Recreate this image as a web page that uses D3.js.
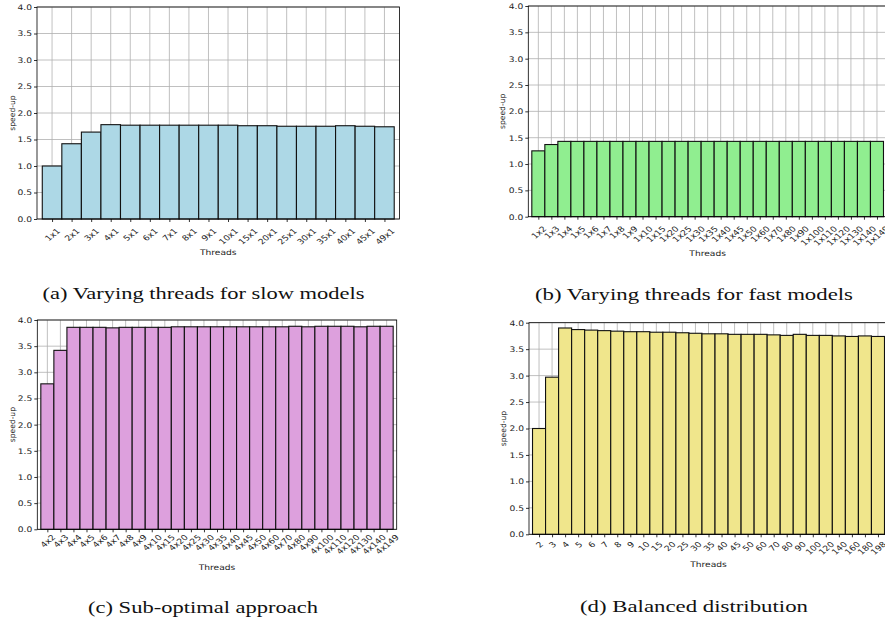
<!DOCTYPE html>
<html>
<head>
<meta charset="utf-8">
<script src="https://cdn.jsdelivr.net/npm/d3@7"></script>
<style>
  html, body { margin: 0; padding: 0; background: #fff; }
  svg { display: block; }
  .tick text { font-family: "DejaVu Sans", sans-serif; }
</style>
</head>
<body>
<svg id="chart" width="885" height="623"></svg>
<script>
// ---------- data ----------
const slowLabels = ["1x1","2x1","3x1","4x1","5x1","6x1","7x1","8x1","9x1","10x1","15x1","20x1","25x1","30x1","35x1","40x1","45x1","49x1"];
const slowValues = [1.00,1.42,1.64,1.78,1.77,1.77,1.77,1.77,1.77,1.77,1.76,1.76,1.75,1.75,1.75,1.76,1.75,1.74];

const fastLabels = ["1x2","1x3","1x4","1x5","1x6","1x7","1x8","1x9","1x10","1x15","1x20","1x25","1x30","1x35","1x40","1x45","1x50","1x60","1x70","1x80","1x90","1x100","1x110","1x120","1x130","1x140","1x149"];
const fastValues = [1.25,1.37,1.43,1.43,1.43,1.43,1.43,1.43,1.43,1.43,1.43,1.43,1.43,1.43,1.43,1.43,1.43,1.43,1.43,1.43,1.43,1.43,1.43,1.43,1.43,1.43,1.43];

const subLabels = ["4x2","4x3","4x4","4x5","4x6","4x7","4x8","4x9","4x10","4x15","4x20","4x25","4x30","4x35","4x40","4x45","4x50","4x60","4x70","4x80","4x90","4x100","4x110","4x120","4x130","4x140","4x149"];
const subValues = [2.78,3.42,3.86,3.86,3.86,3.85,3.86,3.86,3.86,3.86,3.87,3.87,3.87,3.87,3.87,3.87,3.87,3.87,3.87,3.88,3.87,3.88,3.88,3.88,3.87,3.88,3.88];

const balLabels = ["2","3","4","5","6","7","8","9","10","15","20","25","30","35","40","45","50","60","70","80","90","100","120","140","160","180","198"];
const balValues = [2.00,2.97,3.90,3.87,3.86,3.85,3.84,3.83,3.83,3.82,3.82,3.81,3.80,3.79,3.79,3.78,3.78,3.78,3.77,3.76,3.78,3.76,3.76,3.75,3.74,3.75,3.74];

const yTicks = [0,0.5,1.0,1.5,2.0,2.5,3.0,3.5,4.0];
const xTitle = "Threads";
const yTitle = "speed-up";

const captions = [
  "(a) Varying threads for slow models",
  "(b) Varying threads for fast models",
  "(c) Sub-optimal approach",
  "(d) Balanced distribution"
];

// ---------- layout ----------
const SX = 1.2; // horizontal stretch of the reference figure text
const FS = 7.6;
const panels = [
  {labels: slowLabels, values: slowValues, color: "#add8e6", left: 37, right: 399.5, top: 7, bottom: 219, ylab: 12, xt: 255, lo: 8, cap: [203.5, 298.5, 322]},
  {labels: fastLabels, values: fastValues, color: "#90ee90", left: 528.3, right: 887, top: 6, bottom: 216.7, ylab: 502, xt: 256, lo: 8, cap: [694, 299.5, 318]},
  {labels: subLabels, values: subValues, color: "#dda0dd", left: 37.3, right: 396.7, top: 320, bottom: 529.3, ylab: 12, xt: 569.5, lo: 4, cap: [203, 613, 230]},
  {labels: balLabels, values: balValues, color: "#f0e68c", left: 529, right: 888, top: 322.7, bottom: 534.3, ylab: 503, xt: 567, lo: 6, cap: [694, 611.5, 228]}
];

const svg = d3.select("#chart");

function stretch(sel, f) {
  sel.each(function() {
    const L = this.getComputedTextLength();
    d3.select(this).attr("textLength", L * f).attr("lengthAdjust", "spacingAndGlyphs");
  });
}

panels.forEach((p, k) => {
  const n = p.labels.length;
  const x = d3.scaleLinear().domain([-0.77, n - 1 + 0.77]).range([p.left, p.right]);
  const y = d3.scaleLinear().domain([0, 4]).range([p.bottom, p.top]);
  const g = svg.append("g");
  const w = p.right - p.left, h = p.bottom - p.top;

  // grid
  g.append("g").selectAll("line").data(yTicks).join("line")
    .attr("x1", p.left).attr("x2", p.right)
    .attr("y1", d => y(d)).attr("y2", d => y(d))
    .attr("stroke", "#b0b0b0").attr("stroke-width", 0.8);
  g.append("g").selectAll("line").data(d3.range(n)).join("line")
    .attr("x1", d => x(d)).attr("x2", d => x(d))
    .attr("y1", p.top).attr("y2", p.bottom)
    .attr("stroke", "#b0b0b0").attr("stroke-width", 0.8);

  // bars
  g.append("g").selectAll("rect").data(p.values).join("rect")
    .attr("x", (d, i) => x(i - 0.5))
    .attr("width", x(1) - x(0))
    .attr("y", d => y(d))
    .attr("height", d => y(0) - y(d))
    .attr("fill", p.color)
    .attr("stroke", "#111")
    .attr("stroke-width", 1.1);

  // spines
  g.append("rect").attr("x", p.left).attr("y", p.top).attr("width", w).attr("height", h)
    .attr("fill", "none").attr("stroke", "#000").attr("stroke-width", 0.8);

  // y axis
  const ya = d3.axisLeft(y).tickValues(yTicks).tickFormat(d3.format(".1f")).tickSize(3).tickPadding(2);
  const yg = g.append("g").attr("transform", `translate(${p.left},0)`).call(ya);
  yg.select(".domain").remove();
  yg.selectAll("text").attr("font-size", FS).attr("fill", "#222");
  stretch(yg.selectAll("text"), SX);
  yg.selectAll("line").attr("stroke", "#000").attr("stroke-width", 0.8);

  // x axis
  const xa = d3.axisBottom(x).tickValues(d3.range(n)).tickFormat(i => p.labels[i]).tickSize(3).tickPadding(0);
  const xg = g.append("g").attr("transform", `translate(0,${p.bottom})`).call(xa);
  xg.select(".domain").remove();
  xg.selectAll("line").attr("stroke", "#000").attr("stroke-width", 0.8);
  xg.selectAll("text")
    .attr("font-size", FS).attr("fill", "#222")
    .attr("text-anchor", "middle")
    .attr("dy", null)
    .attr("y", null)
    .attr("dominant-baseline", "central")
    .each(function() {
      const L = this.getComputedTextLength();
      const cy = p.lo + (L + FS) * 0.7071 / 2;
      d3.select(this).attr("transform", `translate(0,${cy}) scale(${SX},1) rotate(-45)`);
    });

  // axis titles
  const xt = g.append("text").attr("x", (p.left + p.right) / 2).attr("y", p.xt)
    .attr("text-anchor", "middle").attr("font-family", "DejaVu Sans, sans-serif")
    .attr("font-size", FS).attr("fill", "#222").text(xTitle);
  stretch(xt, SX);
  g.append("text").attr("transform", `translate(${p.ylab},${(p.top + p.bottom) / 2}) rotate(-90)`)
    .attr("text-anchor", "middle").attr("dominant-baseline", "central")
    .attr("font-family", "DejaVu Sans, sans-serif")
    .attr("font-size", FS).attr("fill", "#222").text(yTitle);

  // caption
  svg.append("text").attr("x", p.cap[0]).attr("y", p.cap[1])
    .attr("text-anchor", "middle").attr("font-family", "Liberation Serif, serif")
    .attr("font-size", 16.5).attr("fill", "#111")
    .attr("textLength", p.cap[2]).attr("lengthAdjust", "spacingAndGlyphs")
    .text(captions[k]);
});
</script>
</body>
</html>
